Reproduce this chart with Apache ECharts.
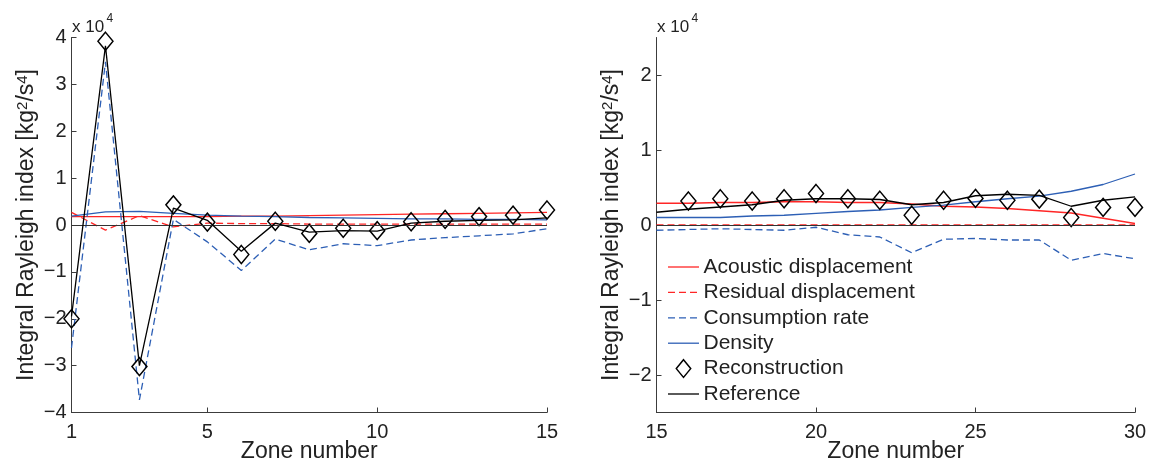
<!DOCTYPE html>
<html>
<head>
<meta charset="utf-8">
<script src="https://cdn.jsdelivr.net/npm/echarts@6/dist/echarts.min.js"></script>
<style>
  html, body { margin: 0; padding: 0; background: #fff; }
  #chart { width: 1151px; height: 460px; }
</style>
</head>
<body>
<div id="chart"></div>
<script>
// Integral Rayleigh index per zone, values in units of 10^4 kg^2/s^4

// Zones 1-15
const zonesL = [1, 2, 3, 4, 5, 6, 7, 8, 9, 10, 11, 12, 13, 14, 15];
const acousticL = [0.18, 0.18, 0.18, 0.18, 0.18, 0.19, 0.19, 0.20, 0.21, 0.22, 0.23, 0.24, 0.25, 0.26, 0.27];
const residualL = [0.27, -0.11, 0.20, -0.04, 0.04, 0.03, 0.03, 0.02, 0.02, 0.02, 0.02, 0.02, 0.02, 0.02, 0.02];
const consumptionL = [-2.62, 3.48, -3.73, 0.12, -0.36, -0.97, -0.30, -0.53, -0.40, -0.44, -0.32, -0.27, -0.23, -0.19, -0.08];
const densityL = [0.19, 0.28, 0.29, 0.25, 0.21, 0.19, 0.18, 0.16, 0.15, 0.14, 0.13, 0.13, 0.12, 0.12, 0.11];
const reconstructionL = [-2.0, 3.92, -3.02, 0.43, 0.06, -0.63, 0.08, -0.18, -0.07, -0.12, 0.07, 0.12, 0.18, 0.21, 0.32];
const referenceL = [-1.95, 3.82, -3.0, 0.36, 0.10, -0.56, 0.04, -0.15, -0.12, -0.13, 0.04, 0.08, 0.10, 0.11, 0.15];

// Zones 15-30
const zonesR = [15, 16, 17, 18, 19, 20, 21, 22, 23, 24, 25, 26, 27, 28, 29, 30];
const acousticR = [0.29, 0.29, 0.30, 0.30, 0.31, 0.31, 0.30, 0.30, 0.28, 0.25, 0.24, 0.22, 0.19, 0.16, 0.09, 0.02];
const residualR = [0, 0, 0, 0, 0, 0, 0, 0, 0, 0, 0, 0, 0, 0, 0, 0];
const consumptionR = [-0.07, -0.06, -0.05, -0.06, -0.07, -0.03, -0.13, -0.16, -0.37, -0.19, -0.18, -0.20, -0.20, -0.47, -0.38, -0.45];
const densityR = [0.10, 0.10, 0.10, 0.12, 0.13, 0.155, 0.18, 0.20, 0.235, 0.265, 0.31, 0.35, 0.385, 0.45, 0.54, 0.68];
const reconZonesR = [16, 17, 18, 19, 20, 21, 22, 23, 24, 25, 26, 27, 28, 29, 30];
const reconstructionR = [0.32, 0.35, 0.32, 0.35, 0.42, 0.35, 0.33, 0.13, 0.33, 0.355, 0.33, 0.345, 0.10, 0.235, 0.235];
const referenceR = [0.17, 0.21, 0.24, 0.27, 0.33, 0.35, 0.35, 0.34, 0.27, 0.30, 0.39, 0.41, 0.395, 0.25, 0.33, 0.376];

// Tick labels
const xTicksL = [1, 5, 10, 15];
const xTicksR = [15, 20, 25, 30];
const yTicksL = [-4, -3, -2, -1, 0, 1, 2, 3, 4];
const yTicksR = [-2, -1, 0, 1, 2];

// Legend entries (drawn inside the right panel)
const legendNames = ['Acoustic displacement', 'Residual displacement', 'Consumption rate', 'Density', 'Reconstruction', 'Reference'];

const FONT = 'Liberation Sans, Arial, Helvetica, sans-serif';
const TEXT = '#222';
const AXIS = '#3c3c3c';
const RED = '#ff2626';
const BLUE = '#2d5fb5';
const DASH = [7, 4];
const LW = 1.3;

// stroke style of each legend sample, in legend order
const legendStyles = [
  { stroke: RED, lineDash: null },
  { stroke: RED, lineDash: DASH },
  { stroke: BLUE, lineDash: DASH },
  { stroke: BLUE, lineDash: null },
  null,
  { stroke: '#000', lineDash: null }
];

const pairs = (xs, ys) => xs.map((x, i) => [x, ys[i]]);
const minusFmt = v => (v < 0 ? '\u2212' + (-v) : String(v));

function xAxisFor(idx, min, max, ticks) {
  return {
    type: 'value', gridIndex: idx, min: min, max: max,
    name: 'Zone number', nameLocation: 'middle', nameGap: 28, nameMoveOverlap: false,
    nameTextStyle: { fontFamily: FONT, fontSize: 23, color: TEXT },
    axisLine: { onZero: false, lineStyle: { color: AXIS, width: 1 } },
    axisTick: { inside: true, length: 5, customValues: ticks, lineStyle: { color: AXIS } },
    axisLabel: { customValues: ticks, margin: 10, fontFamily: FONT, fontSize: 20, color: TEXT },
    splitLine: { show: false }
  };
}

function yAxisFor(idx, min, max, ticks) {
  return {
    type: 'value', gridIndex: idx, min: min, max: max,
    name: 'Integral Rayleigh index [kg{sup|2}/s{sup|4}]',
    nameLocation: 'middle', nameGap: 33, nameRotate: 90, nameMoveOverlap: false,
    nameTextStyle: {
      fontFamily: FONT, fontSize: 23, color: TEXT,
      rich: { sup: { fontFamily: FONT, fontSize: 15, color: TEXT, verticalAlign: 'top' } }
    },
    axisLine: { show: true, lineStyle: { color: AXIS, width: 1 } },
    axisTick: { inside: true, length: 5, customValues: ticks, lineStyle: { color: AXIS } },
    axisLabel: { customValues: ticks, margin: 5, fontFamily: FONT, fontSize: 20, color: TEXT, formatter: minusFmt },
    splitLine: { show: false }
  };
}

function panelSeries(idx, zones, acoustic, residual, consumption, density, reconZones, recon, reference) {
  const base = { type: 'line', xAxisIndex: idx, yAxisIndex: idx, symbol: 'none', silent: true };
  return [
    Object.assign({}, base, {
      name: legendNames[0], data: pairs(zones, acoustic),
      lineStyle: { color: RED, width: LW },
      markLine: {
        silent: true, symbol: 'none', label: { show: false },
        lineStyle: { color: '#333', width: 1, type: 'solid' },
        data: [{ yAxis: 0 }]
      }
    }),
    Object.assign({}, base, {
      name: legendNames[1], data: pairs(zones, residual),
      lineStyle: { color: RED, width: LW, type: DASH }
    }),
    Object.assign({}, base, {
      name: legendNames[2], data: pairs(zones, consumption),
      lineStyle: { color: BLUE, width: LW, type: DASH }
    }),
    Object.assign({}, base, {
      name: legendNames[3], data: pairs(zones, density),
      lineStyle: { color: BLUE, width: LW }
    }),
    {
      type: 'scatter', xAxisIndex: idx, yAxisIndex: idx, silent: true,
      name: legendNames[4], data: pairs(reconZones, recon),
      symbol: 'diamond', symbolSize: [15, 18],
      itemStyle: { color: 'rgba(255,255,255,0)', borderColor: '#000', borderWidth: 1.5, opacity: 1 },
      z: 4
    },
    Object.assign({}, base, {
      name: legendNames[5], data: pairs(zones, reference),
      lineStyle: { color: '#000', width: LW },
      z: 5
    })
  ];
}

// Legend built from plain shapes and text
const LEG_X = 668, LEG_Y = 267, LEG_STEP = 25.4, LEG_LEN = 31;
const legendGraphics = [];
legendNames.forEach((name, i) => {
  const y = LEG_Y + i * LEG_STEP;
  const st = legendStyles[i];
  if (st) {
    legendGraphics.push({
      type: 'line', silent: true,
      shape: { x1: LEG_X, y1: y, x2: LEG_X + LEG_LEN, y2: y },
      style: { stroke: st.stroke, lineWidth: LW, lineDash: st.lineDash }
    });
  } else {
    const cx = LEG_X + LEG_LEN / 2;
    legendGraphics.push({
      type: 'polygon', silent: true,
      shape: { points: [[cx, y - 8.8], [cx + 7.2, y], [cx, y + 8.8], [cx - 7.2, y]] },
      style: { fill: 'none', stroke: '#000', lineWidth: 1.5 }
    });
  }
  legendGraphics.push({
    type: 'text', silent: true, x: LEG_X + 35.5, y: y,
    style: { text: name, fontFamily: FONT, fontSize: 21, fill: TEXT, verticalAlign: 'middle', align: 'left' }
  });
});

const chart = echarts.init(document.getElementById('chart'), null, { renderer: 'canvas' });

chart.setOption({
  animation: false,
  backgroundColor: '#fff',
  grid: [
    { left: 71.5, right: 604, top: 37.5, bottom: 47.5, outerBoundsMode: 'none', containLabel: false },
    { left: 656.5, right: 16, top: 37.5, bottom: 47.5, outerBoundsMode: 'none', containLabel: false }
  ],
  xAxis: [xAxisFor(0, 1, 15, xTicksL), xAxisFor(1, 15, 30, xTicksR)],
  yAxis: [yAxisFor(0, -4, 4, yTicksL), yAxisFor(1, -2.5, 2.5, yTicksR)],
  graphic: [
    { type: 'text', x: 72, y: 27.5, style: { text: 'x 10', fontFamily: FONT, fontSize: 17, fill: TEXT, verticalAlign: 'middle' } },
    { type: 'text', x: 106.5, y: 18.5, style: { text: '4', fontFamily: FONT, fontSize: 12, fill: TEXT, verticalAlign: 'middle' } },
    { type: 'text', x: 657, y: 27.5, style: { text: 'x 10', fontFamily: FONT, fontSize: 17, fill: TEXT, verticalAlign: 'middle' } },
    { type: 'text', x: 691.5, y: 18.5, style: { text: '4', fontFamily: FONT, fontSize: 12, fill: TEXT, verticalAlign: 'middle' } }
  ].concat(legendGraphics),
  series: [].concat(
    panelSeries(0, zonesL, acousticL, residualL, consumptionL, densityL, zonesL, reconstructionL, referenceL),
    panelSeries(1, zonesR, acousticR, residualR, consumptionR, densityR, reconZonesR, reconstructionR, referenceR)
  )
});
</script>
</body>
</html>
